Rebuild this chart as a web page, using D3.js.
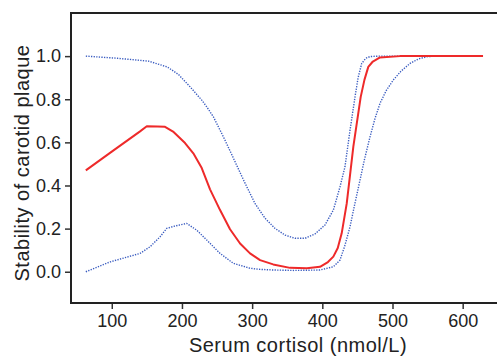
<!DOCTYPE html>
<html>
<head>
<meta charset="utf-8">
<script src="https://cdn.jsdelivr.net/npm/d3@7"></script>
<style>
  body { margin: 0; background: #fff; }
  svg { display: block; }
  text { font-family: "Liberation Sans", Arial, sans-serif; fill: #222; }
</style>
</head>
<body>
<div id="chart"></div>
<script>
// cortisol (nmol/L) vs. fitted probability and its confidence band
const fitX = [63, 100, 140.3, 149.9, 165, 175.9, 187.3, 204.4, 216.2, 228.2, 240, 254.3, 268.5, 282.8, 297, 311.3, 330, 354, 378, 396.7, 408, 415.7, 422, 427.6, 434.8, 444.2, 454.7, 460, 465.5, 472, 482.2, 510.7, 629];
const fitY = [0.47, 0.557, 0.651, 0.675, 0.674, 0.672, 0.65, 0.597, 0.549, 0.481, 0.382, 0.286, 0.197, 0.131, 0.085, 0.054, 0.034, 0.018, 0.016, 0.023, 0.045, 0.07, 0.11, 0.178, 0.317, 0.58, 0.811, 0.89, 0.95, 0.975, 0.994, 1.0, 1.0];

const upperX = [63, 108, 152, 179, 195, 211.5, 228.2, 235.3, 244.7, 259, 270, 282.8, 290, 304, 318.4, 332.6, 346.9, 361, 375.4, 389.6, 403.8, 415.7, 420.5, 425.2, 432.3, 439.5, 446.6, 451, 456.1, 462, 468, 480, 629];
const upperY = [1.0, 0.99, 0.977, 0.95, 0.915, 0.858, 0.796, 0.765, 0.719, 0.626, 0.55, 0.46, 0.41, 0.317, 0.248, 0.201, 0.17, 0.155, 0.155, 0.175, 0.217, 0.286, 0.34, 0.394, 0.487, 0.657, 0.811, 0.9, 0.966, 0.99, 0.998, 1.0, 1.0];

const lowerX = [63, 98, 140.3, 154.6, 168.8, 178.3, 190, 206.8, 221, 235.3, 254.3, 273.2, 297, 311.3, 330, 360, 396.7, 415.7, 425.2, 432, 439.5, 446, 453.7, 460, 468, 475, 482.2, 491, 501.1, 512, 525, 537, 548.7, 560, 629];
const lowerY = [0.0, 0.046, 0.085, 0.116, 0.162, 0.201, 0.212, 0.224, 0.193, 0.147, 0.085, 0.039, 0.016, 0.011, 0.008, 0.006, 0.008, 0.023, 0.054, 0.12, 0.209, 0.31, 0.425, 0.52, 0.626, 0.71, 0.781, 0.84, 0.889, 0.93, 0.966, 0.987, 0.997, 1.0, 1.0];

const xTicks = [100, 200, 300, 400, 500, 600];
const yTicks = [0.0, 0.2, 0.4, 0.6, 0.8, 1.0];

const width = 497, height = 358;
const plotLeft = 71, plotTop = 13, plotBottom = 303, plotRight = 497;

const svg = d3.select("#chart").append("svg")
    .attr("width", width)
    .attr("height", height);

const x = d3.scaleLinear().domain([41.9, 648.9]).range([plotLeft, plotRight]);
const y = d3.scaleLinear().domain([-0.145, 1.2]).range([plotBottom, plotTop]);

const line = d3.line()
    .x(d => x(d[0]))
    .y(d => y(d[1]));

// confidence band (dotted blue)
[[upperX, upperY], [lowerX, lowerY]].forEach(([xs, ys]) => {
    svg.append("path")
        .datum(d3.zip(xs, ys))
        .attr("d", line)
        .attr("fill", "none")
        .attr("stroke", "#3a5cc0")
        .attr("stroke-width", 1.4)
        .attr("stroke-dasharray", "1.3,1.3");
});

// fitted curve (red)
svg.append("path")
    .datum(d3.zip(fitX, fitY))
    .attr("d", line)
    .attr("fill", "none")
    .attr("stroke", "#ee2a2a")
    .attr("stroke-width", 2)
    .attr("stroke-linejoin", "round");

// axes
const xAxis = svg.append("g")
    .attr("transform", "translate(0," + plotBottom + ")")
    .call(d3.axisBottom(x).tickValues(xTicks).tickSize(6).tickPadding(5).tickSizeOuter(0));
const yAxis = svg.append("g")
    .attr("transform", "translate(" + plotLeft + ",0)")
    .call(d3.axisLeft(y).tickValues(yTicks).tickFormat(d3.format(".1f")).tickSize(6).tickPadding(4).tickSizeOuter(0));

[xAxis, yAxis].forEach(g => {
    g.select(".domain").remove();
    g.selectAll(".tick line").attr("stroke", "#333").attr("stroke-width", 1.5);
    g.selectAll(".tick text").attr("fill", "#222").style("font-size", "18px");
});

// frame: top, left, bottom
svg.append("path")
    .attr("d", "M" + plotRight + "," + plotTop + "H" + plotLeft + "V" + plotBottom + "H" + plotRight)
    .attr("fill", "none")
    .attr("stroke", "#222")
    .attr("stroke-width", 2);

svg.append("text")
    .attr("x", 298)
    .attr("y", 352)
    .attr("text-anchor", "middle")
    .style("font-size", "20px")
    .style("letter-spacing", "0.5px")
    .text("Serum cortisol (nmol/L)");

svg.append("text")
    .attr("transform", "translate(28.5,163) rotate(-90)")
    .attr("text-anchor", "middle")
    .style("font-size", "20px")
    .style("letter-spacing", "0.5px")
    .text("Stability of carotid plaque");
</script>
</body>
</html>
